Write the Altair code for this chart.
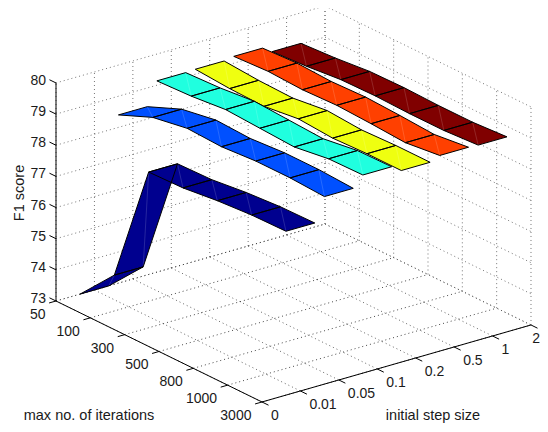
import altair as alt
import pandas as pd

iters = ["50", "100", "300", "500", "800", "1000", "3000"]
steps = ["0", "0.01", "0.05", "0.1", "0.2", "0.5", "1", "2"]
z_ticks = [73, 74, 75, 76, 77, 78, 79, 80]

ribbon_steps = [1, 2, 3, 4, 5, 6]
colors = ["#00008F", "#0050FF", "#20FFDF", "#EFFF10", "#FF4000", "#800000"]
f1_001 = [73.0, 74.15, 78.0, 78.03, 78.16, 78.24, 78.26]
f1_005 = [78.4, 78.86, 79.05, 79.0, 79.08, 79.08, 79.02]
f1_01 = [79.14, 79.19, 79.30, 79.24, 79.18, 79.34, 79.36]
f1_02 = [79.16, 79.08, 79.05, 79.19, 79.11, 79.15, 79.15]
f1_05 = [79.22, 79.28, 79.23, 79.27, 79.22, 79.15, 79.28]
f1_1 = [79.02, 79.09, 79.2, 79.22, 79.19, 79.19, 79.26]
series = [f1_001, f1_005, f1_01, f1_02, f1_05, f1_1]

HALF = 0.375


def proj(i, s, z=73.0):
    """3-D (iteration index, step index, F1) to the 2-D view of the box."""
    return (56 + 34.33 * i + 38.43 * s, 301 + 16.83 * i - 11.0 * s - 31.15 * (z - 73))


xs = alt.Scale(domain=[8, 540], nice=False, zero=False)
ys = alt.Scale(domain=[8, 424], nice=False, zero=False, reverse=True)
X = alt.X("x:Q", scale=xs, axis=None)
Y = alt.Y("y:Q", scale=ys, axis=None)


def seg(rows, a, b):
    p, q = proj(*a), proj(*b)
    rows.append({"x": p[0], "y": p[1], "x2": q[0], "y2": q[1]})


ni, ns = len(iters) - 1, len(steps) - 1
floor_a, floor_b, wall, solid = [], [], [], []
for i in range(ni + 1):
    seg(floor_a, (i, 0), (i, ns))
    seg(wall, (i, ns, 73), (i, ns, 80))
    seg(solid, (i, 0), (i, -0.18))
for s in range(ns + 1):
    seg(floor_b, (0, s), (ni, s))
    seg(wall, (0, s, 73), (0, s, 80))
    seg(solid, (0 + ni, s), (ni + 0.19, s))
for z in z_ticks:
    seg(wall, (0, 0, z), (0, ns, z))
    seg(wall, (0, ns, z), (ni, ns, z))
    seg(solid, (0, 0, z), (-0.19, 0, z))
seg(solid, (0, 0, 73), (0, 0, 80))
seg(solid, (0, 0), (ni, 0))
seg(solid, (ni, 0), (ni, ns))


def rules(rows, **kw):
    return alt.Chart(pd.DataFrame(rows)).mark_rule(**kw).encode(
        x=X, y=Y, x2=alt.X2("x2:Q"), y2=alt.Y2("y2:Q"))


dot = dict(strokeDash=[1, 3], strokeWidth=0.9)
layers = [
    rules(wall, color="#666666", **dot),
    rules(floor_a, color="#333333", **dot),
    rules(floor_b, color="#555555", **dot),
    rules(solid, color="#000000", strokeWidth=1),
]


def slices(poly):
    """Top and bottom of a polygon at each of its vertex x positions."""
    out = []
    for px in sorted({p[0] for p in poly}):
        hits = []
        for a, b in zip(poly, poly[1:] + poly[:1]):
            lo, hi = min(a[0], b[0]), max(a[0], b[0])
            if lo <= px <= hi:
                if a[0] == b[0]:
                    hits += [a[1], b[1]]
                else:
                    t = (px - a[0]) / (b[0] - a[0])
                    hits.append(a[1] + t * (b[1] - a[1]))
        out.append({"x": px, "y": min(hits), "y2": max(hits)})
    return out


for s, vals, col in reversed(list(zip(ribbon_steps, series, colors))):
    fill, edge, seam = [], [], []
    for i in range(len(vals) - 1):
        a = proj(i, s - HALF, vals[i])
        b = proj(i, s + HALF, vals[i])
        c = proj(i + 1, s + HALF, vals[i + 1])
        d = proj(i + 1, s - HALF, vals[i + 1])
        for row in slices([a, b, c, d]):
            fill.append({**row, "q": i})
        for k, p in enumerate([a, b, c, d, a]):
            edge.append({"x": p[0], "y": p[1], "q": i, "k": k})
        seam.append({"x": b[0], "y": b[1], "x2": d[0], "y2": d[1]})
    layers.append(alt.Chart(pd.DataFrame(fill)).mark_area(
        color=col, orient="vertical", interpolate="linear", opacity=1).encode(
        x=X, y=Y, y2=alt.Y2("y2:Q"), detail="q:N"))
    layers.append(rules(seam, color="#ffffff", strokeWidth=0.6, opacity=0.25))
    layers.append(alt.Chart(pd.DataFrame(edge)).mark_line(
        color="#000000", strokeWidth=1, interpolate="linear").encode(
        x=X, y=Y, detail="q:N", order="k:Q"))

label_font = dict(font="Liberation Sans", fontSize=14, color="#1a1a1a")
z_labels, i_labels, s_labels, s_last = [], [], [], []
for z in z_ticks:
    p = proj(0, 0, z)
    z_labels.append({"x": p[0] - 10, "y": p[1] - 2, "t": str(z)})
for i, t in enumerate(iters):
    p = proj(i, 0)
    i_labels.append({"x": p[0] - 10.5, "y": p[1] + 14, "t": t})
for s, t in enumerate(steps):
    p = proj(ni, s)
    if s == ns:
        s_last.append({"x": 540, "y": p[1] + 14, "t": t})
    else:
        s_labels.append({"x": p[0] + 9, "y": p[1] + 14, "t": t})

for rows, al in ((z_labels, "right"), (i_labels, "right"), (s_labels, "left"), (s_last, "right")):
    layers.append(alt.Chart(pd.DataFrame(rows)).mark_text(
        align=al, baseline="middle", **label_font).encode(x=X, y=Y, text="t:N"))

titles = [
    {"x": 89, "y": 416, "t": "max no. of iterations"},
    {"x": 433, "y": 416, "t": "initial step size"},
]
layers.append(alt.Chart(pd.DataFrame(titles)).mark_text(
    align="center", baseline="middle", font="Liberation Sans", fontSize=14.5, color="#1a1a1a"
).encode(x=X, y=Y, text="t:N"))
layers.append(alt.Chart(pd.DataFrame([{"x": 19.5, "y": 193, "t": "F1 score"}])).mark_text(
    align="center", baseline="middle", angle=270, font="Liberation Sans", fontSize=14.5,
    color="#1a1a1a").encode(x=X, y=Y, text="t:N"))

chart = alt.layer(*layers).properties(
    width=532, height=416, padding=0,
    autosize=alt.AutoSizeParams(type="none"),
    background="white",
).configure_view(stroke=None)

chart.save("out.html", embed_options={"renderer": "svg", "actions": False})
